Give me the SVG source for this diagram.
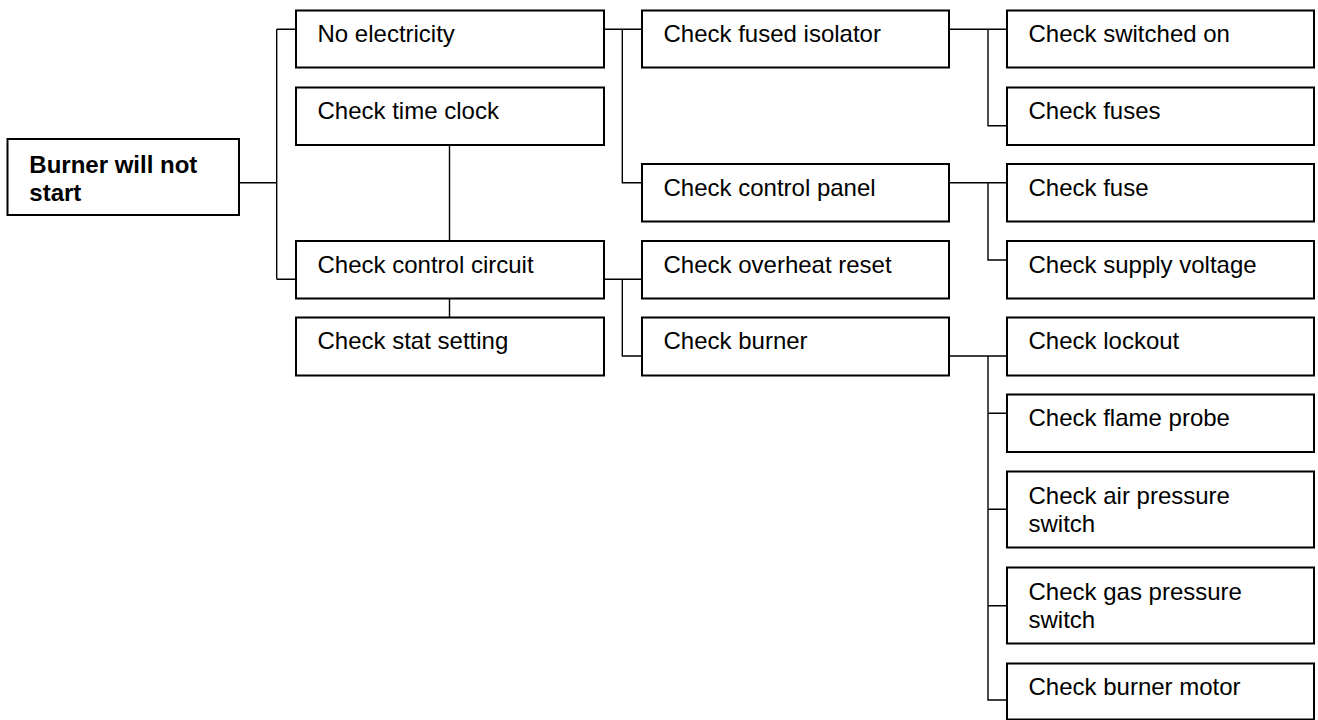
<svg xmlns="http://www.w3.org/2000/svg" width="1318" height="720" viewBox="0 0 1318 720">
<style>
.box{fill:#fff;stroke:#000;stroke-width:2}
.t{font-family:"Liberation Sans",Arial,sans-serif;font-size:24px;fill:#000}
.b{font-weight:bold}
.c{fill:none;stroke:#000;stroke-width:1.4}
</style>
<rect width="1318" height="720" fill="#fff"/>
<g id="connectors">
<path class="c" d="M239 182.7H276.7M276.7 29.3V279.3M276.7 29.3H296M276.7 279.3H296"/>
<path class="c" d="M449.5 145V241M449.5 298.5V317.5"/>
<path class="c" d="M604 29.3H642M622.3 29.3V182.7H642"/>
<path class="c" d="M604 279.3H642M622.3 279.3V356H642"/>
<path class="c" d="M949 29.3H1007M988 29.3V125.7H1007"/>
<path class="c" d="M949 182.7H1007M988 182.7V260H1007"/>
<path class="c" d="M949 356H1007M988 356V700H1007M988 413.3H1007M988 509.3H1007M988 605.7H1007"/>
</g>
<g id="root"><rect class="box" x="7.5" y="139" width="231.5" height="76"/><text class="t b" x="29.3" y="173.3">Burner will not</text><text class="t b" x="29.3" y="201">start</text></g>
<g id="no-electricity"><rect class="box" x="296" y="10.5" width="308" height="57"/><text class="t" x="317.5" y="42.2">No electricity</text></g>
<g id="time-clock"><rect class="box" x="296" y="87.5" width="308" height="57.5"/><text class="t" x="317.5" y="119.2">Check time clock</text></g>
<g id="control-circuit"><rect class="box" x="296" y="241" width="308" height="57.5"/><text class="t" x="317.5" y="272.7">Check control circuit</text></g>
<g id="stat-setting"><rect class="box" x="296" y="317.5" width="308" height="58"/><text class="t" x="317.5" y="349.2">Check stat setting</text></g>
<g id="fused-isolator"><rect class="box" x="642" y="10.5" width="307" height="57"/><text class="t" x="663.5" y="42.2">Check fused isolator</text></g>
<g id="control-panel"><rect class="box" x="642" y="164" width="307" height="57.5"/><text class="t" x="663.5" y="195.7">Check control panel</text></g>
<g id="overheat-reset"><rect class="box" x="642" y="241" width="307" height="57.5"/><text class="t" x="663.5" y="272.7">Check overheat reset</text></g>
<g id="burner"><rect class="box" x="642" y="317.5" width="307" height="58"/><text class="t" x="663.5" y="349.2">Check burner</text></g>
<g id="switched-on"><rect class="box" x="1007" y="10.5" width="307" height="57"/><text class="t" x="1028.5" y="42.2">Check switched on</text></g>
<g id="fuses"><rect class="box" x="1007" y="87.5" width="307" height="57.5"/><text class="t" x="1028.5" y="119.2">Check fuses</text></g>
<g id="fuse"><rect class="box" x="1007" y="164" width="307" height="57.5"/><text class="t" x="1028.5" y="195.7">Check fuse</text></g>
<g id="supply-voltage"><rect class="box" x="1007" y="241" width="307" height="57.5"/><text class="t" x="1028.5" y="272.7">Check supply voltage</text></g>
<g id="lockout"><rect class="box" x="1007" y="317.5" width="307" height="58"/><text class="t" x="1028.5" y="349.2">Check lockout</text></g>
<g id="flame-probe"><rect class="box" x="1007" y="394.5" width="307" height="57.5"/><text class="t" x="1028.5" y="426.2">Check flame probe</text></g>
<g id="air-pressure"><rect class="box" x="1007" y="471.5" width="307" height="76"/><text class="t" x="1028.5" y="504.3">Check air pressure</text><text class="t" x="1028.5" y="531.7">switch</text></g>
<g id="gas-pressure"><rect class="box" x="1007" y="567.5" width="307" height="76"/><text class="t" x="1028.5" y="600.3">Check gas pressure</text><text class="t" x="1028.5" y="627.7">switch</text></g>
<g id="burner-motor"><rect class="box" x="1007" y="663.5" width="307" height="56"/><text class="t" x="1028.5" y="695.2">Check burner motor</text></g>
</svg>
